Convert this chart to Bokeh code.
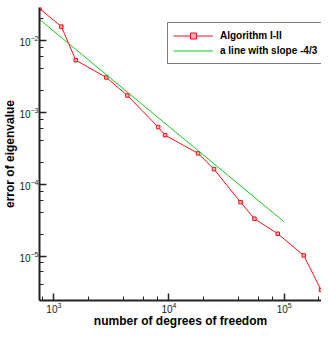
from bokeh.plotting import figure
from bokeh.models import LogTicker, Legend, LegendItem, Range1d
from bokeh.embed import file_html
from bokeh.resources import INLINE

# data
dofs = [751, 1163, 1552, 2856, 4350, 8055, 9250, 17900, 24600, 41800, 55200, 88000, 148000, 209000]
errors = [0.0275, 0.0154, 0.00526, 0.00303, 0.0017, 6.2e-4, 4.78e-4, 2.67e-4, 1.61e-4,
          5.6e-5, 3.3e-5, 2.04e-5, 1.02e-5, 3.37e-6]
ref_x = [751, 100000]
ref_y = [0.0194, 2.98e-5]

FONT = "Liberation Sans"

p = figure(width=321, height=330, x_axis_type="log", y_axis_type="log",
           x_range=Range1d(751, 2.11e5), y_range=Range1d(2.41e-6, 0.0284),
           output_backend="svg", toolbar_location=None,
           min_border_left=0, min_border_right=0, min_border_top=7, min_border_bottom=0)
p.outline_line_color = None
p.grid.visible = False
p.background_fill_color = "white"

l1 = p.line(dofs, errors, line_color="#e8141c", line_width=1)
m1 = p.scatter(dofs, errors, marker="square", size=3.5, line_color="#e8141c",
               fill_color="#f6b0b0", line_width=1)
l2 = p.line(ref_x, ref_y, line_color="#18c818", line_width=1)

for ax in (p.xaxis[0], p.yaxis[0]):
    ax.axis_line_width = 2
    ax.axis_line_color = "#222222"
    ax.major_tick_line_color = "#222222"
    ax.minor_tick_line_color = "#222222"
    ax.major_tick_line_width = 1.5
    ax.minor_tick_line_width = 1
    ax.major_tick_in = 7
    ax.major_tick_out = 0
    ax.minor_tick_in = 4
    ax.minor_tick_out = 0
    ax.major_label_text_font = FONT
    ax.major_label_text_font_size = "10px"
    ax.major_label_text_color = "#222222"
    ax.axis_label_text_font = FONT
    ax.axis_label_text_font_style = "bold"
    ax.axis_label_text_font_size = "12px"
    ax.axis_label_text_color = "#000000"
    ax.major_label_standoff = 1

p.xaxis.axis_label_standoff = -2
p.yaxis.axis_label_standoff = -1

p.xaxis.ticker = LogTicker(mantissas=[1], desired_num_ticks=3)
p.yaxis.ticker = LogTicker(mantissas=[1], desired_num_ticks=4)
p.xaxis.axis_label = "number of degrees of freedom"
p.yaxis.axis_label = "error of eigenvalue"

legend = Legend(items=[LegendItem(label="Algorithm I-II", renderers=[l1, m1]),
                       LegendItem(label="a line with slope -4/3", renderers=[l2])],
                location=(128, 236), padding=5, spacing=0, margin=0,
                glyph_width=40, glyph_height=15, label_height=15, label_standoff=7,
                label_text_font=FONT, label_text_font_size="10px",
                label_text_font_style="bold", label_text_color="#000000",
                border_line_color="#000000", border_line_width=1.5,
                background_fill_alpha=1)
p.add_layout(legend, "center")

open("out.html", "w").write(file_html(p, INLINE))
